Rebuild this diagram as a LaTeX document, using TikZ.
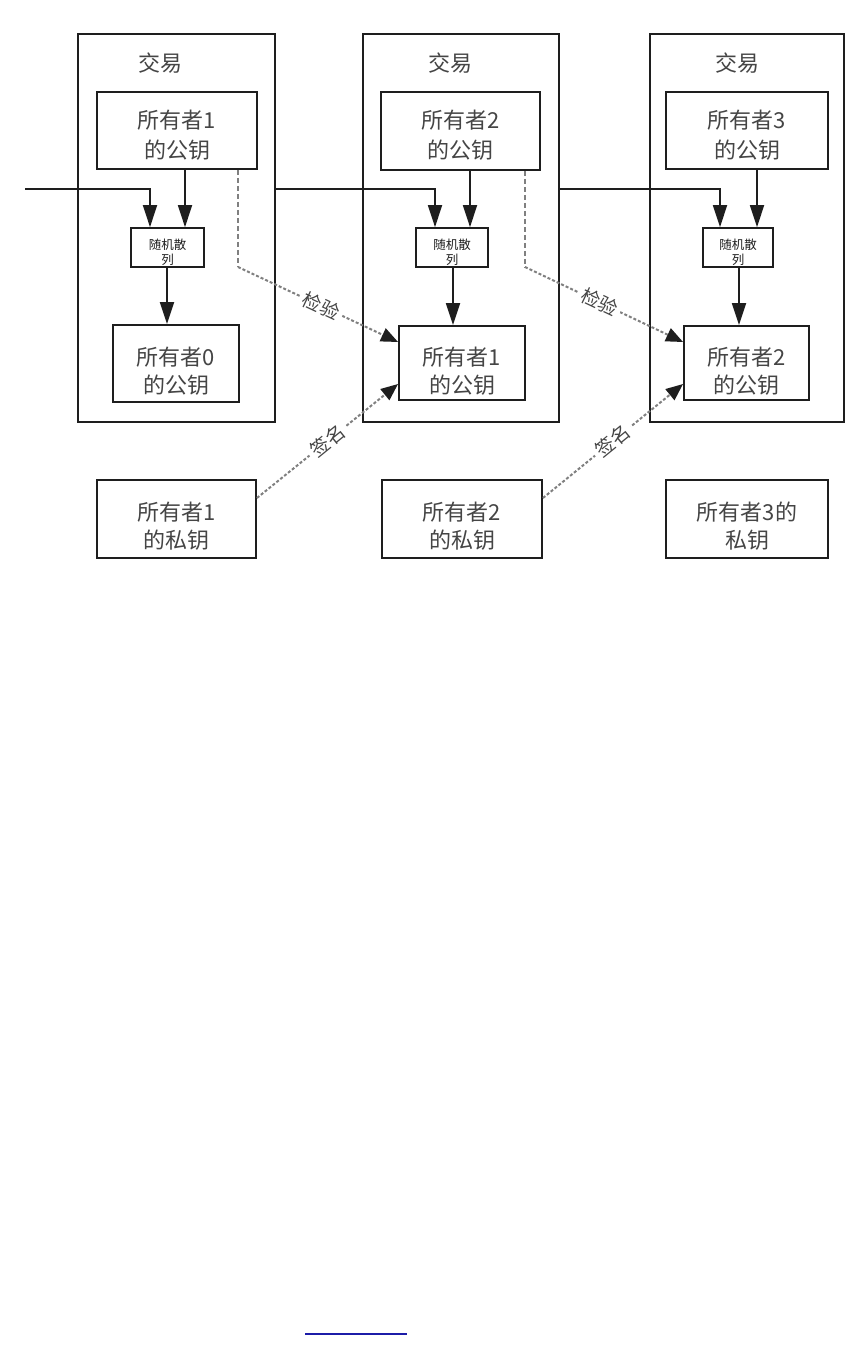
\documentclass[tikz,border=0pt]{standalone}
\usepackage{fontspec}
\newfontfamily\cjk{Noto Sans CJK SC}
\usetikzlibrary{arrows.meta}
\definecolor{ink}{HTML}{1E1E1E}
\definecolor{txt}{HTML}{454545}
\definecolor{dotc}{HTML}{808080}
\definecolor{linkblue}{HTML}{1C1CA8}
\tikzset{
 txbox/.style={draw=ink,line width=2pt,minimum width=#1,minimum height=388pt,inner sep=0pt},
 kbox/.style 2 args={draw=ink,line width=1.9pt,minimum width=#1,minimum height=#2,inner sep=0pt},
 ktext/.style={inner sep=0pt,align=center,text=txt,font=\cjk\fontsize{22pt}{#1}\selectfont},
 hbox/.style={draw=ink,line width=1.7pt,minimum width=#1,minimum height=39pt,inner sep=0pt},
 htext/.style={inner sep=0pt,align=center,text=ink,font=\cjk\fontsize{12.5pt}{15pt}\selectfont},
 title/.style={text=txt,inner sep=0pt,font=\cjk\fontsize{22pt}{22pt}\selectfont},
 arr/.style={draw=ink,line width=1.8pt,-{Triangle[length=22pt,width=14pt]}},
 vdash/.style={draw=dotc,line width=2pt,dash pattern=on 5pt off 3pt},
 verif/.style={draw=dotc,line width=2pt,dash pattern=on 3pt off 2pt,-{Triangle[length=17pt,width=14pt,color=ink]}},
 elabel/.style={sloped,fill=white,inner sep=4pt,text=txt,font=\cjk\fontsize{19pt}{19pt}\selectfont}
}
\begin{document}
\begin{tikzpicture}[x=1pt,y=-1pt]
\fill[white] (0,0) rectangle (866,1372);
\useasboundingbox (0,0) rectangle (866,1372);

% transaction frames
\node[txbox=197pt] (tx1) at (176.5,228) {};
\node[txbox=196pt] (tx2) at (461,228) {};
\node[txbox=194pt] (tx3) at (747,228) {};
\node[title] (ti1) at (160,63) {交易};
\node[title] (ti2) at (450,63) {交易};
\node[title] (ti3) at (737,63) {交易};

% public keys (top)
\node[kbox={160pt}{77pt}] (pubA) at (177,130.5) {};
\node[kbox={159pt}{78pt}] (pubB) at (460.5,131) {};
\node[kbox={162pt}{77pt}] (pubC) at (747,130.5) {};
\node[ktext=30pt] (pubAt) at ([yshift=-4.5pt]pubA.center) {所有者1\\的公钥};
\node[ktext=30pt] (pubBt) at ([yshift=-4.5pt]pubB.center) {所有者2\\的公钥};
\node[ktext=30pt] (pubCt) at ([yshift=-4.5pt]pubC.center) {所有者3\\的公钥};

% hash boxes
\node[hbox=73pt] (hash1) at (167.5,247.5) {};
\node[hbox=72pt] (hash2) at (452,247.5) {};
\node[hbox=70pt] (hash3) at (738,247.5) {};
\node[htext] (hash1t) at ([yshift=-5pt]hash1.center) {随机散\\列};
\node[htext] (hash2t) at ([yshift=-5pt]hash2.center) {随机散\\列};
\node[htext] (hash3t) at ([yshift=-5pt]hash3.center) {随机散\\列};

% previous owner public keys
\node[kbox={126pt}{77pt}] (prev0) at (176,363.5) {};
\node[kbox={126pt}{74pt}] (prev1) at (462,363) {};
\node[kbox={125pt}{74pt}] (prev2) at (746.5,363) {};
\node[ktext=28pt] (prev0t) at ([yshift=-8pt]prev0.center) {所有者0\\的公钥};
\node[ktext=28pt] (prev1t) at ([yshift=-8pt]prev1.center) {所有者1\\的公钥};
\node[ktext=28pt] (prev2t) at ([yshift=-8pt]prev2.center) {所有者2\\的公钥};

% private keys
\node[kbox={159pt}{78pt}] (priv1) at (176.5,519) {};
\node[kbox={160pt}{78pt}] (priv2) at (462,519) {};
\node[kbox={162pt}{78pt}] (priv3) at (747,519) {};
\node[ktext=28pt] (priv1t) at ([yshift=-7pt]priv1.center) {所有者1\\的私钥};
\node[ktext=28pt] (priv2t) at ([yshift=-7pt]priv2.center) {所有者2\\的私钥};
\node[ktext=28pt] (priv3t) at ([yshift=-7pt]priv3.center) {所有者3的\\私钥};

% chain lines into hash
\coordinate (in0) at (25,189);
\draw[arr] (in0) -| (hash1.north -| 150,0);
\draw[arr] (tx1.east |- in0) -| (hash2.north -| 435,0);
\draw[arr] (tx2.east |- in0) -| (hash3.north -| 720,0);

% pub key into hash
\draw[arr] (pubA.south -| 185,0) -- (hash1.north -| 185,0);
\draw[arr] (pubB.south -| 470,0) -- (hash2.north -| 470,0);
\draw[arr] (pubC.south -| 757,0) -- (hash3.north -| 757,0);

% hash into previous owner key
\draw[arr] (hash1.south -| 167,0) -- (prev0.north -| 167,0);
\draw[arr] (hash2.south -| 453,0) -- (prev1.north -| 453,0);
\draw[arr] (hash3.south -| 739,0) -- (prev2.north -| 739,0);

% verification
\coordinate (b1) at (238,267);
\coordinate (b2) at (525,267);
\draw[vdash] (pubA.south -| b1) -- (b1);
\draw[vdash] (pubB.south -| b2) -- (b2);
\draw[verif] (b1) -- node[elabel,pos=0.52]{检验} (prev1.west |- 0,342);
\draw[verif] (b2) -- node[elabel,pos=0.47]{检验} (prev2.west |- 0,342);

% signing
\draw[verif] (priv1.east |- 0,498) -- node[elabel,pos=0.5]{签名} (prev1.west |- 0,384);
\draw[verif] (priv2.east |- 0,498) -- node[elabel,pos=0.5]{签名} (prev2.west |- 0,384);

% link underline
\coordinate (u1) at (305,1334);
\coordinate (u2) at (407,1334);
\draw[linkblue,line width=1.6pt] (u1) -- (u2);
\end{tikzpicture}
\end{document}
